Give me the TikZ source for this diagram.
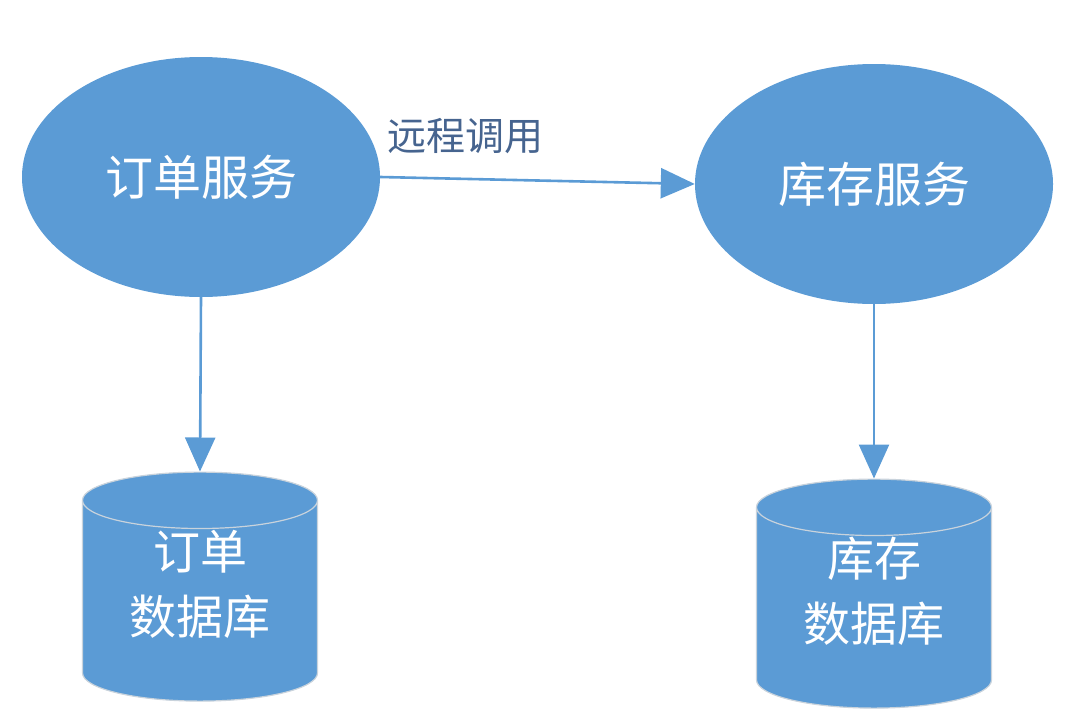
\documentclass[tikz,border=0pt]{standalone}
\usepackage{fontspec}
\newfontfamily\cjk{Noto Sans CJK SC}
\usepackage{tikz}
\usetikzlibrary{arrows.meta,positioning,shapes.geometric}
\definecolor{svcblue}{HTML}{5B9BD5}
\definecolor{edgegray}{HTML}{C9D3DC}
\definecolor{lbltext}{HTML}{46648F}
\newcommand{\dbtext}[2]{\raisebox{6pt}[0pt][0pt]{\begin{tabular}{@{}c@{}}#1\\#2\end{tabular}}}
\tikzset{
  svc/.style={ellipse, fill=svcblue, draw=none, minimum width=358pt, minimum height=240pt,
              inner sep=0pt, text=white, font=\cjk\fontsize{48}{56}\selectfont},
  dbcyl/.style={cylinder, shape border rotate=90, aspect=0.4, fill=svcblue, draw=edgegray,
                line width=1.2pt, minimum width=235pt, minimum height=229pt, inner sep=0pt,
                align=center, text=white, font=\cjk\fontsize{47}{65}\selectfont},
  lbl/.style={font=\cjk\fontsize{39}{44}\selectfont, text=lbltext},
  flow/.style={-{Triangle[length=34pt,width=30pt]}, draw=svcblue, line width=2.6pt},
}
\begin{document}
\begin{tikzpicture}[x=1pt,y=-1pt]
\useasboundingbox (0,0) rectangle (1078,720);

\node[svc]   (order)   at (201,177) {订单服务};
\node[svc]   (stock)   at (874,184) {库存服务};
\node[dbcyl] (orderdb) at (200,601) {\dbtext{订单}{数据库}};
\node[dbcyl] (stockdb) at (874,608) {\dbtext{库存}{数据库}};

\draw[flow] (order.east) -- node[lbl, pos=0.27, above=20pt]{远程调用} (stock.west);
\draw[flow] (order.south) -- (orderdb.north);
\draw[flow] (stock.south) -- (stockdb.north);
\end{tikzpicture}
\end{document}
